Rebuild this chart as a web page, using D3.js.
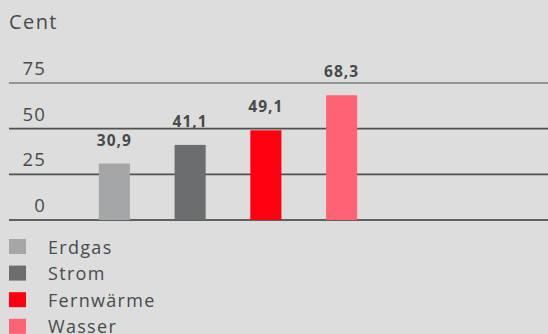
<!DOCTYPE html>
<html><head><meta charset="utf-8">
<script src="https://cdn.jsdelivr.net/npm/d3@7"></script>
<style>
html,body{margin:0;padding:0;background:#dcdddc;}
svg{display:block;font-family:"Open Sans",sans-serif;}
</style></head>
<body>
<svg id="c" width="548" height="334"></svg>
<script>
const categories = ["Erdgas","Strom","Fernwärme","Wasser"];
const values = [30.9, 41.1, 49.1, 68.3];
const valueLabels = ["30,9","41,1","49,1","68,3"];
const colors = ["#a5a6a7","#6b6d6e","#ff0010","#ff6272"];
const ticks = [0,25,50,75];
const unitLabel = "Cent";

const svg = d3.select("#c");
const textColor = "#474b4c";

const y = d3.scaleLinear().domain([0,75]).range([220,83]);
const x = d3.scaleBand().domain(categories).range([76.5,379.5]).paddingInner(0.59).paddingOuter(0.295);

// grid lines
svg.append("g").selectAll("line").data(ticks).join("line")
  .attr("x1",9).attr("x2",548)
  .attr("y1",d=>y(d)).attr("y2",d=>y(d))
  .attr("stroke",d=>d===75?"#7a7c7d":(d===0?"#5e6162":"#4f5253"))
  .attr("stroke-width",d=>d===0?2:1.6);

// tick labels
svg.append("g").selectAll("text").data(ticks).join("text")
  .attr("x",46).attr("y",d=>y(d)-8)
  .attr("text-anchor","end")
  .attr("font-size",18.5).attr("letter-spacing",1.2)
  .attr("fill",textColor)
  .text(d=>d);

svg.append("text").attr("x",9).attr("y",29)
  .attr("font-size",20).attr("letter-spacing",1.4)
  .attr("fill",textColor).text(unitLabel);

// bars
svg.append("g").selectAll("rect").data(categories).join("rect")
  .attr("x",d=>x(d)).attr("width",x.bandwidth())
  .attr("y",(d,i)=>y(values[i])).attr("height",(d,i)=>y(0)-y(values[i]))
  .attr("fill",(d,i)=>colors[i]);

// value labels
svg.append("g").selectAll("text").data(categories).join("text")
  .attr("x",d=>x(d)+x.bandwidth()/2)
  .attr("y",(d,i)=>y(values[i])-18)
  .attr("text-anchor","middle")
  .attr("font-size",15.5).attr("font-weight","bold").attr("letter-spacing",1)
  .attr("fill",textColor)
  .text((d,i)=>valueLabels[i]);

// legend
const lg = svg.append("g").selectAll("g").data(categories).join("g")
  .attr("transform",(d,i)=>`translate(0,${239 + i*26.6})`);
lg.append("rect").attr("x",9).attr("y",0).attr("width",17).attr("height",15)
  .attr("fill",(d,i)=>colors[i]);
lg.append("text").attr("x",48).attr("y",14.5)
  .attr("font-size",18).attr("letter-spacing",1.3)
  .attr("fill",textColor).text(d=>d);
</script>
</body></html>
